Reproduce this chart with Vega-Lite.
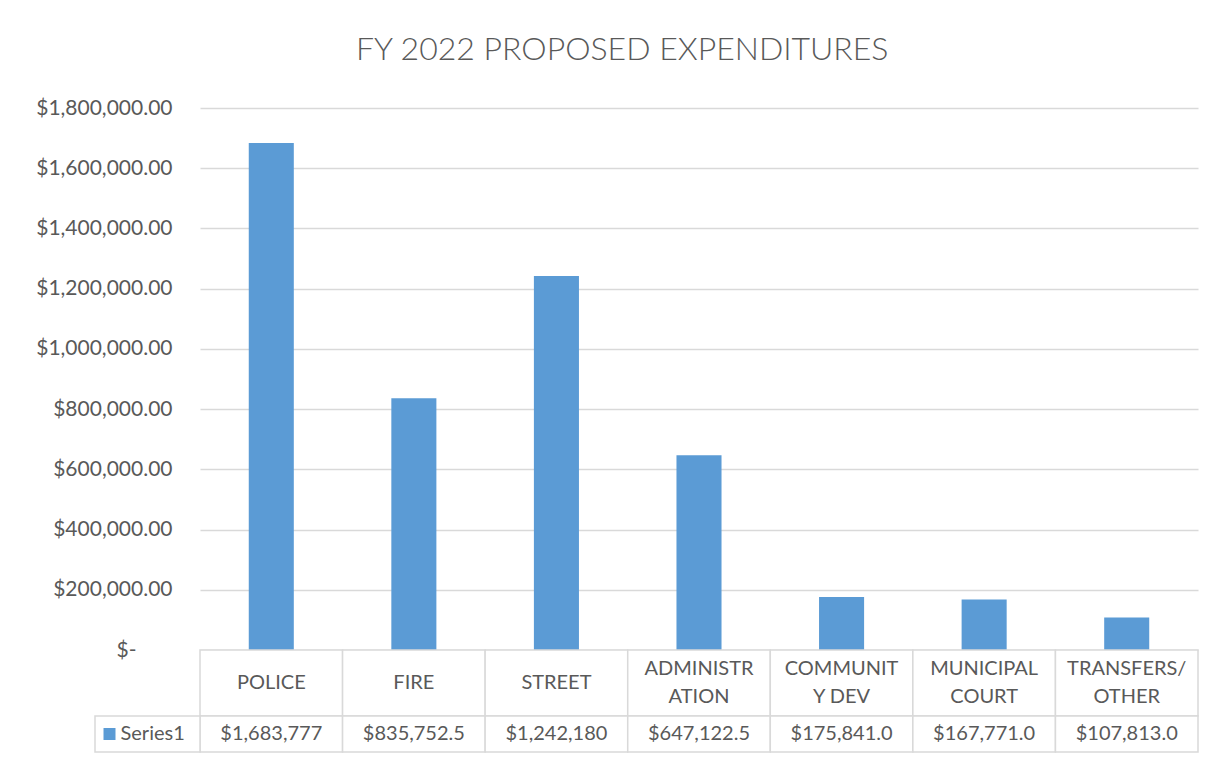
{
  "$schema": "https://vega.github.io/schema/vega-lite/v6.json",
  "description": "FY 2022 proposed expenditures with data table",
  "background": "white",
  "padding": {"left": 35, "top": 34, "right": 10, "bottom": 4},
  "config": {
    "view": {"stroke": null},
    "font": "Lato",
    "concat": {"spacing": 0}
  },
  "title": {
    "text": "FY 2022 PROPOSED EXPENDITURES",
    "font": "Lato",
    "fontSize": 32,
    "fontWeight": 300,
    "color": "#595959",
    "anchor": "middle",
    "dx": 5,
    "offset": 30
  },
  "datasets": {
    "budget": [
      {"department": "POLICE", "label": "POLICE", "amount": 1683777, "shown": "$1,683,777"},
      {"department": "FIRE", "label": "FIRE", "amount": 835752.5, "shown": "$835,752.5"},
      {"department": "STREET", "label": "STREET", "amount": 1242180, "shown": "$1,242,180"},
      {"department": "ADMINISTRATION", "label": "ADMINISTR\nATION", "amount": 647122.5, "shown": "$647,122.5"},
      {"department": "COMMUNITY DEV", "label": "COMMUNIT\nY DEV", "amount": 175841, "shown": "$175,841.0"},
      {"department": "MUNICIPAL COURT", "label": "MUNICIPAL\nCOURT", "amount": 167771, "shown": "$167,771.0"},
      {"department": "TRANSFERS/OTHER", "label": "TRANSFERS/\nOTHER", "amount": 107813, "shown": "$107,813.0"}
    ],
    "legend": [
      {"series": "Series1"}
    ]
  },
  "bounds": "flush",
  "vconcat": [
    {
      "width": 998,
      "height": 542,
      "data": {"name": "budget"},
      "mark": {"type": "bar", "color": "#5B9BD5", "width": {"band": 0.316}},
      "encoding": {
        "x": {"field": "department", "type": "nominal", "sort": null, "scale": {"type": "band", "padding": 0}, "axis": null},
        "y": {
          "field": "amount",
          "type": "quantitative",
          "scale": {"domain": [0, 1800000], "nice": false},
          "axis": {
            "title": null,
            "values": [0, 200000, 400000, 600000, 800000, 1000000, 1200000, 1400000, 1600000, 1800000],
            "labelExpr": "datum.value == 0 ? '$-' : format(datum.value, '$,.2f')",
            "domain": false,
            "ticks": false,
            "grid": true,
            "gridColor": "#d9d9d9",
            "gridWidth": 1.5,
            "labelFont": "Lato",
            "labelFontSize": 21,
            "labelColor": "#595959",
            "labelPadding": {"condition": {"test": "datum.value === 0", "value": 64}, "value": 28}
          }
        }
      }
    },
    {
      "width": 998,
      "height": 66,
      "data": {"name": "budget"},
      "encoding": {
        "x": {"field": "department", "type": "nominal", "sort": null, "scale": {"type": "band", "padding": 0}, "axis": null}
      },
      "layer": [
        {"mark": {"type": "rect", "fill": "white", "stroke": "#d9d9d9", "strokeWidth": 1.5}},
        {
          "transform": [{"filter": "indexof(datum.label, '\\n') < 0"}],
          "mark": {"type": "text", "font": "Lato", "fontSize": 20, "color": "#595959"},
          "encoding": {"text": {"field": "label"}}
        },
        {
          "transform": [{"filter": "indexof(datum.label, '\\n') >= 0"}],
          "mark": {"type": "text", "font": "Lato", "fontSize": 20, "color": "#595959", "lineBreak": "\n", "lineHeight": 28, "dy": -14},
          "encoding": {"text": {"field": "label"}}
        }
      ]
    },
    {
      "width": 998,
      "height": 36,
      "layer": [
        {
          "data": {"name": "budget"},
          "mark": {"type": "rect", "fill": "white", "stroke": "#d9d9d9", "strokeWidth": 1.5},
          "encoding": {"x": {"field": "department", "type": "nominal", "sort": null, "scale": {"type": "band", "padding": 0}, "axis": null}}
        },
        {
          "data": {"name": "budget"},
          "mark": {"type": "text", "font": "Lato", "fontSize": 20, "color": "#595959"},
          "encoding": {
            "x": {"field": "department", "type": "nominal", "sort": null, "scale": {"type": "band", "padding": 0}, "axis": null},
            "text": {"field": "shown"}
          }
        },
        {
          "data": {"name": "legend"},
          "mark": {"type": "rect", "fill": "white", "stroke": "#d9d9d9", "strokeWidth": 1.5},
          "encoding": {"x": {"field": "series", "type": "nominal", "scale": {"type": "band", "domain": ["Series1"], "range": [-105, 0], "padding": 0}, "axis": null}}
        },
        {
          "data": {"name": "legend"},
          "mark": {"type": "point", "shape": "square", "filled": true, "opacity": 1, "color": "#5B9BD5", "size": 144, "xOffset": -38},
          "encoding": {"x": {"field": "series", "type": "nominal", "scale": {"type": "band", "domain": ["Series1"], "range": [-105, 0], "padding": 0}, "axis": null}}
        },
        {
          "data": {"name": "legend"},
          "mark": {"type": "text", "font": "Lato", "fontSize": 20, "color": "#595959", "align": "left", "dx": -27},
          "encoding": {
            "x": {"field": "series", "type": "nominal", "scale": {"type": "band", "domain": ["Series1"], "range": [-105, 0], "padding": 0}, "axis": null},
            "text": {"field": "series"}
          }
        }
      ],
      "resolve": {"scale": {"x": "independent"}}
    }
  ]
}
